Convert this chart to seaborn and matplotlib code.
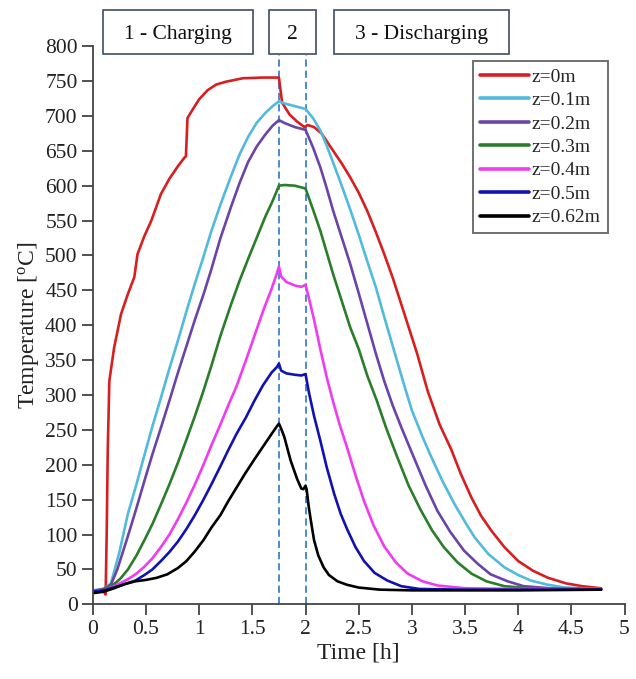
import numpy as np
import pandas as pd
import matplotlib
matplotlib.use("Agg")
import matplotlib.pyplot as plt
import seaborn as sns
from matplotlib.patches import Rectangle

# ---------------- data ----------------
series_labels = ["z=0m", "z=0.1m", "z=0.2m", "z=0.3m", "z=0.4m", "z=0.5m", "z=0.62m"]
series_colors = ["#d81f1f", "#52badb", "#6a44a6", "#2a7d2a", "#f03cf0", "#1212b0", "#000000"]

t_z0 = [0, 0.05, 0.1, 0.12, 0.13, 0.14, 0.155, 0.2, 0.265, 0.33, 0.39, 0.42, 0.485, 0.55,
        0.64, 0.72, 0.8, 0.86, 0.875, 0.89, 0.95, 1.0, 1.08, 1.16, 1.25, 1.41, 1.6, 1.75,
        1.76, 1.78, 1.85, 1.92, 1.99, 2.02, 2.08, 2.15, 2.26, 2.34, 2.42, 2.5, 2.58, 2.66,
        2.74, 2.82, 2.89, 2.97, 3.05, 3.15, 3.26, 3.37, 3.46, 3.56, 3.65, 3.75, 3.87, 4.0,
        4.14, 4.28, 4.45, 4.6, 4.78]
T_z0 = [19, 20, 19, 14, 100, 220, 320, 368, 416, 445, 469, 502, 528, 550,
        588, 610, 628, 640, 642, 697, 712, 724, 737, 745, 749, 754, 755, 755,
        743, 719, 702, 692, 684, 687, 684, 675, 650, 632, 612, 590, 564, 534,
        502, 468, 435, 397, 359, 305, 258, 222, 187, 153, 127, 105, 82, 62,
        48, 38, 30, 26, 23]

t_z01 = [0, 0.1, 0.17, 0.25, 0.33, 0.41, 0.485, 0.56, 0.64, 0.72, 0.8, 0.88, 0.96, 1.04,
         1.11, 1.2, 1.3, 1.38, 1.46, 1.54, 1.62, 1.69, 1.75, 1.8, 1.9, 2.0, 2.07, 2.14,
         2.2, 2.26, 2.34, 2.42, 2.5, 2.58, 2.66, 2.74, 2.83, 2.92, 3.0, 3.1, 3.18, 3.29,
         3.4, 3.5, 3.59, 3.72, 3.87, 4.0, 4.12, 4.28, 4.44, 4.6, 4.78]
T_z01 = [20, 22, 30, 75, 130, 172, 214, 255, 296, 338, 378, 420, 460, 498,
         533, 573, 614, 645, 670, 690, 704, 714, 721, 718, 714, 710, 697, 679,
         657, 633, 600, 566, 530, 492, 455, 412, 365, 318, 278, 240, 212, 176,
         144, 118, 96, 72, 53, 42, 34, 28, 24, 23, 22]

t_z02 = [0, 0.1, 0.17, 0.23, 0.33, 0.41, 0.485, 0.56, 0.64, 0.72, 0.8, 0.88, 0.96, 1.04,
         1.11, 1.2, 1.3, 1.38, 1.46, 1.54, 1.62, 1.69, 1.75, 1.8, 1.9, 2.0, 2.07, 2.14,
         2.2, 2.26, 2.34, 2.42, 2.5, 2.58, 2.66, 2.74, 2.82, 2.9, 3.02, 3.13, 3.24, 3.36,
         3.49, 3.62, 3.74, 3.9, 4.05, 4.3, 4.6, 4.78]
T_z02 = [19, 22, 28, 50, 98, 138, 177, 215, 253, 292, 332, 370, 408, 444,
         478, 525, 570, 604, 634, 656, 673, 686, 694, 690, 684, 680, 655, 626,
         596, 564, 526, 488, 446, 403, 360, 320, 285, 254, 210, 170, 134, 104,
         77, 58, 43, 33, 26, 23, 22, 22]

t_z03 = [0, 0.1, 0.2, 0.26, 0.33, 0.41, 0.485, 0.56, 0.64, 0.72, 0.8, 0.88, 0.96, 1.04,
         1.115, 1.2, 1.3, 1.38, 1.46, 1.54, 1.62, 1.69, 1.75, 1.8, 1.9, 2.0, 2.07, 2.14,
         2.26, 2.34, 2.42, 2.5, 2.58, 2.67, 2.76, 2.86, 2.97, 3.08, 3.19, 3.3, 3.43, 3.56,
         3.7, 3.87, 4.1, 4.5, 4.78]
T_z03 = [18, 21, 29, 37, 50, 70, 92, 115, 143, 172, 203, 236, 270, 306,
         342, 385, 430, 464, 495, 525, 555, 578, 600, 601, 600, 596, 566, 535,
         473, 435, 397, 366, 328, 292, 252, 212, 170, 136, 106, 82, 60, 44,
         33, 26, 23, 22, 22]

t_z04 = [0, 0.1, 0.2, 0.33, 0.41, 0.485, 0.56, 0.64, 0.72, 0.8, 0.88, 0.96, 1.04, 1.115,
         1.2, 1.27, 1.35, 1.44, 1.52, 1.6, 1.68, 1.73, 1.75, 1.77, 1.82, 1.9, 1.96, 2.0,
         2.03, 2.08, 2.14, 2.2, 2.26, 2.32, 2.39, 2.47, 2.55, 2.64, 2.74, 2.85, 2.96, 3.1,
         3.24, 3.5, 4.0, 4.78]
T_z04 = [18, 20, 26, 36, 44, 54, 66, 82, 100, 122, 146, 172, 200, 228,
         258, 284, 312, 350, 385, 420, 452, 474, 484, 470, 462, 457, 455, 458,
         440, 408, 365, 325, 290, 258, 225, 185, 148, 113, 83, 60, 44, 33,
         27, 23, 22, 22]

t_z05 = [0, 0.1, 0.26, 0.4, 0.485, 0.56, 0.64, 0.72, 0.8, 0.88, 0.96, 1.04, 1.115, 1.2,
         1.27, 1.35, 1.44, 1.52, 1.6, 1.68, 1.73, 1.75, 1.77, 1.82, 1.9, 1.96, 2.0, 2.03,
         2.08, 2.14, 2.2, 2.27, 2.33, 2.39, 2.47, 2.55, 2.65, 2.77, 2.9, 3.07, 3.5, 4.78]
T_z05 = [18, 20, 27, 34, 42, 50, 62, 75, 90, 108, 128, 150, 172, 198,
         220, 244, 268, 292, 314, 332, 340, 345, 335, 331, 329, 328, 330, 305,
         270, 234, 196, 158, 130, 108, 82, 62, 45, 34, 26, 22, 21, 21]

t_z062 = [0, 0.1, 0.2, 0.3, 0.4, 0.5, 0.6, 0.7, 0.8, 0.88, 0.96, 1.04, 1.115, 1.2,
          1.27, 1.35, 1.43, 1.52, 1.6, 1.68, 1.73, 1.75, 1.77, 1.8, 1.86, 1.92, 1.96, 1.98,
          2.0, 2.01, 2.03, 2.05, 2.08, 2.12, 2.17, 2.22, 2.3, 2.39, 2.5, 2.7, 3.0, 3.5,
          4.0, 4.78]
T_z062 = [16, 18, 23, 29, 33, 35, 38, 43, 52, 62, 76, 92, 110, 128,
          147, 167, 187, 208, 226, 244, 255, 259, 252, 240, 206, 180, 166, 165,
          170, 165, 140, 120, 92, 70, 53, 42, 33, 28, 24, 21, 20, 20,
          20, 21]

series_t = [t_z0, t_z01, t_z02, t_z03, t_z04, t_z05, t_z062]
series_T = [T_z0, T_z01, T_z02, T_z03, T_z04, T_z05, T_z062]

phase_bounds = [1.75, 2.0]
phase_labels = ["1 - Charging", "2", "3 - Discharging"]

x_ticks = [0, 0.5, 1, 1.5, 2, 2.5, 3, 3.5, 4, 4.5, 5]
y_ticks = list(range(0, 801, 50))

# ---------------- style ----------------
sns.set_theme(style="ticks")
plt.rcParams['font.family'] = ['Liberation Serif', 'DejaVu Serif']
plt.rcParams['mathtext.fontset'] = 'custom'
plt.rcParams['mathtext.rm'] = 'Liberation Serif'
plt.rcParams['mathtext.it'] = 'Liberation Serif:italic'

frames = [pd.DataFrame({"Time": t, "Temperature": T, "Position": lab})
          for lab, t, T in zip(series_labels, series_t, series_T)]
df = pd.concat(frames, ignore_index=True)

fig = plt.figure(figsize=(6.36, 6.79), dpi=100)
ax = fig.add_axes([0.146, 0.110, 0.836, 0.822])

sns.lineplot(data=df, x="Time", y="Temperature", hue="Position",
             hue_order=series_labels, palette=dict(zip(series_labels, series_colors)),
             sort=False, estimator=None, linewidth=1.9, ax=ax)

ax.vlines(phase_bounds, 0, 788, colors="#3f80cc", linestyles=(0, (4, 2.2)), linewidth=1.3, zorder=1)

ax.set_xlim(0, 5)
ax.set_ylim(0, 800)
ax.set_xticks(x_ticks)
ax.set_xticklabels([f"{v:g}" for v in x_ticks])
ax.set_yticks(y_ticks)
ax.tick_params(axis="both", direction="out", length=8, width=1.2, colors="#333333",
               labelsize=15.5, labelcolor="#222222", pad=3)
for side in ["left", "bottom"]:
    ax.spines[side].set_linewidth(1.3)
    ax.spines[side].set_color("#444444")
sns.despine(ax=ax)

ax.set_xlabel("Time [h]", fontsize=17, color="#222222", labelpad=3)
ax.set_ylabel("Temperature [$^{\\rm o}$C]", fontsize=17, color="#222222", labelpad=3)

handles, labs = ax.get_legend_handles_labels()
for h in handles:
    h.set_linewidth(2.6)
leg = ax.legend(handles, labs, loc="upper right", bbox_to_anchor=(0.968, 0.973),
                borderaxespad=0, fontsize=14, frameon=True, fancybox=False,
                edgecolor="#707070", framealpha=1, handlelength=2.5,
                handletextpad=0.15, labelspacing=0.3, borderpad=0.35)
leg.get_frame().set_linewidth(1.4)

# phase boxes at the top
W, H = 636.0, 679.0
boxes = [(103, 253), (268.5, 315.5), (334, 509)]
for (x0, x1), lab in zip(boxes, phase_labels):
    fig.patches.append(Rectangle((x0 / W, 1 - 54 / H), (x1 - x0) / W, 44 / H,
                                 transform=fig.transFigure, facecolor="white",
                                 edgecolor="#3e4e66", linewidth=1.2))
    fig.text((x0 + x1) / 2 / W, 1 - 32 / H, lab, ha="center", va="center_baseline",
             fontsize=15.5, color="#111111")

fig.savefig("out.png", dpi=100)
